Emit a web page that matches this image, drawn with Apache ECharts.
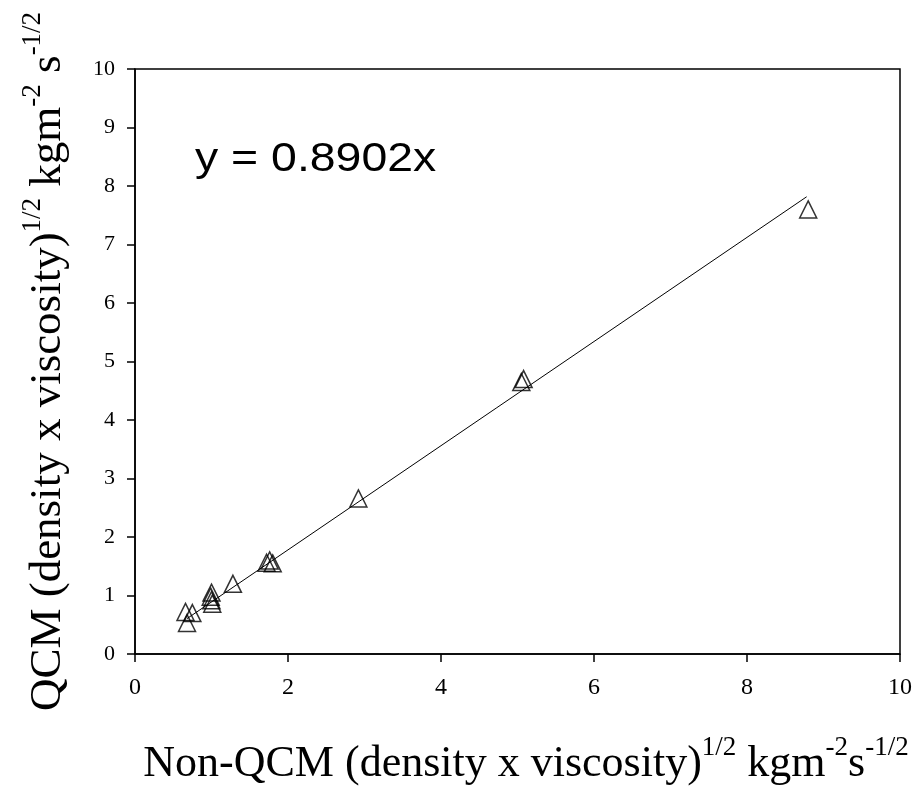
<!DOCTYPE html>
<html>
<head>
<meta charset="utf-8">
<script src="https://cdn.jsdelivr.net/npm/echarts@6/dist/echarts.min.js"></script>
<style>
html,body{margin:0;padding:0;background:#fff;}
#chart{width:912px;height:790px;}
</style>
</head>
<body>
<div id="chart"></div>
<script>
// Data
var pointX = [0.66, 0.75, 0.68, 1.00, 0.99, 1.00, 1.01, 1.28, 1.72, 1.76, 1.80, 2.92, 5.05, 5.08, 8.80];
var pointY = [0.72, 0.70, 0.53, 1.05, 0.98, 0.92, 0.86, 1.20, 1.56, 1.60, 1.55, 2.66, 4.65, 4.70, 7.60];
var trendX = [0.68, 8.78];
var trendY = [0.605, 7.816];
var equationText = 'y = 0.8902x';
var xTicks = [0, 2, 4, 6, 8, 10];
var yTicks = [0, 1, 2, 3, 4, 5, 6, 7, 8, 9, 10];

var points = pointX.map(function (x, i) { return [x, pointY[i]]; });
var trend = trendX.map(function (x, i) { return [x, trendY[i]]; });

var serif = '"Liberation Serif", "Times New Roman", serif';
function rich(size, supSize, lh) {
  return {
    b: { fontFamily: serif, fontSize: size, lineHeight: lh, color: '#000', verticalAlign: 'bottom' },
    sup: { fontFamily: serif, fontSize: supSize, lineHeight: lh, color: '#000', verticalAlign: 'top' }
  };
}

var chart = echarts.init(document.getElementById('chart'), null, { renderer: 'canvas' });
chart.setOption({
  animation: false,
  backgroundColor: '#fff',
  grid: { left: 135, right: 12, top: 69, bottom: 136, containLabel: false, outerBoundsMode: 'none',
    show: true, borderColor: '#000', borderWidth: 1.5, backgroundColor: 'transparent' },
  xAxis: {
    type: 'value', min: 0, max: 10, interval: 2,
    axisLine: { show: true, onZero: false, lineStyle: { color: '#000', width: 1.5 } },
    axisTick: { show: true, inside: false, length: 8, lineStyle: { color: '#000', width: 1.5 } },
    axisLabel: { color: '#000', fontFamily: serif, fontSize: 24, margin: 22,
      formatter: function (v) { return xTicks.indexOf(v) >= 0 ? String(v) : ''; } },
    splitLine: { show: false },
    nameLocation: 'middle', nameGap: 80,
    name: '{b|Non-QCM (density x viscosity)}{sup|1/2}{b| kgm}{sup|-2}{b|s}{sup|-1/2}',
    nameTextStyle: { rich: rich(44, 27, 52), padding: [0, 0, 0, 17] }
  },
  yAxis: {
    type: 'value', min: 0, max: 10, interval: 1,
    axisLine: { show: true, onZero: false, lineStyle: { color: '#000', width: 1.5 } },
    axisTick: { show: true, inside: false, length: 8, lineStyle: { color: '#000', width: 1.5 } },
    axisLabel: { color: '#000', fontFamily: serif, fontSize: 22, margin: 20,
      formatter: function (v) { return yTicks.indexOf(v) >= 0 ? String(v) : ''; } },
    splitLine: { show: false },
    nameLocation: 'middle', nameGap: 64, nameRotate: 90,
    name: '{b|QCM (density x viscosity)}{sup|1/2}{b| kgm}{sup|-2}{b| s}{sup|-1/2}',
    nameTextStyle: { rich: rich(45, 27, 52) }
  },
  graphic: [{
    type: 'text', x: 195, y: 140, scaleX: 1.16, z: 10,
    style: { text: equationText, font: '40px "Liberation Sans", Arial, sans-serif', fill: '#000' }
  }],
  series: [
    {
      type: 'line', data: trend, symbol: 'none', silent: true,
      lineStyle: { color: '#000', width: 1 }, z: 2
    },
    {
      type: 'scatter', data: points, symbol: 'triangle', symbolSize: [17, 17],
      itemStyle: { color: 'rgba(255,255,255,0)', borderColor: '#000', borderWidth: 1.5 }, z: 3
    }
  ]
});
</script>
</body>
</html>
